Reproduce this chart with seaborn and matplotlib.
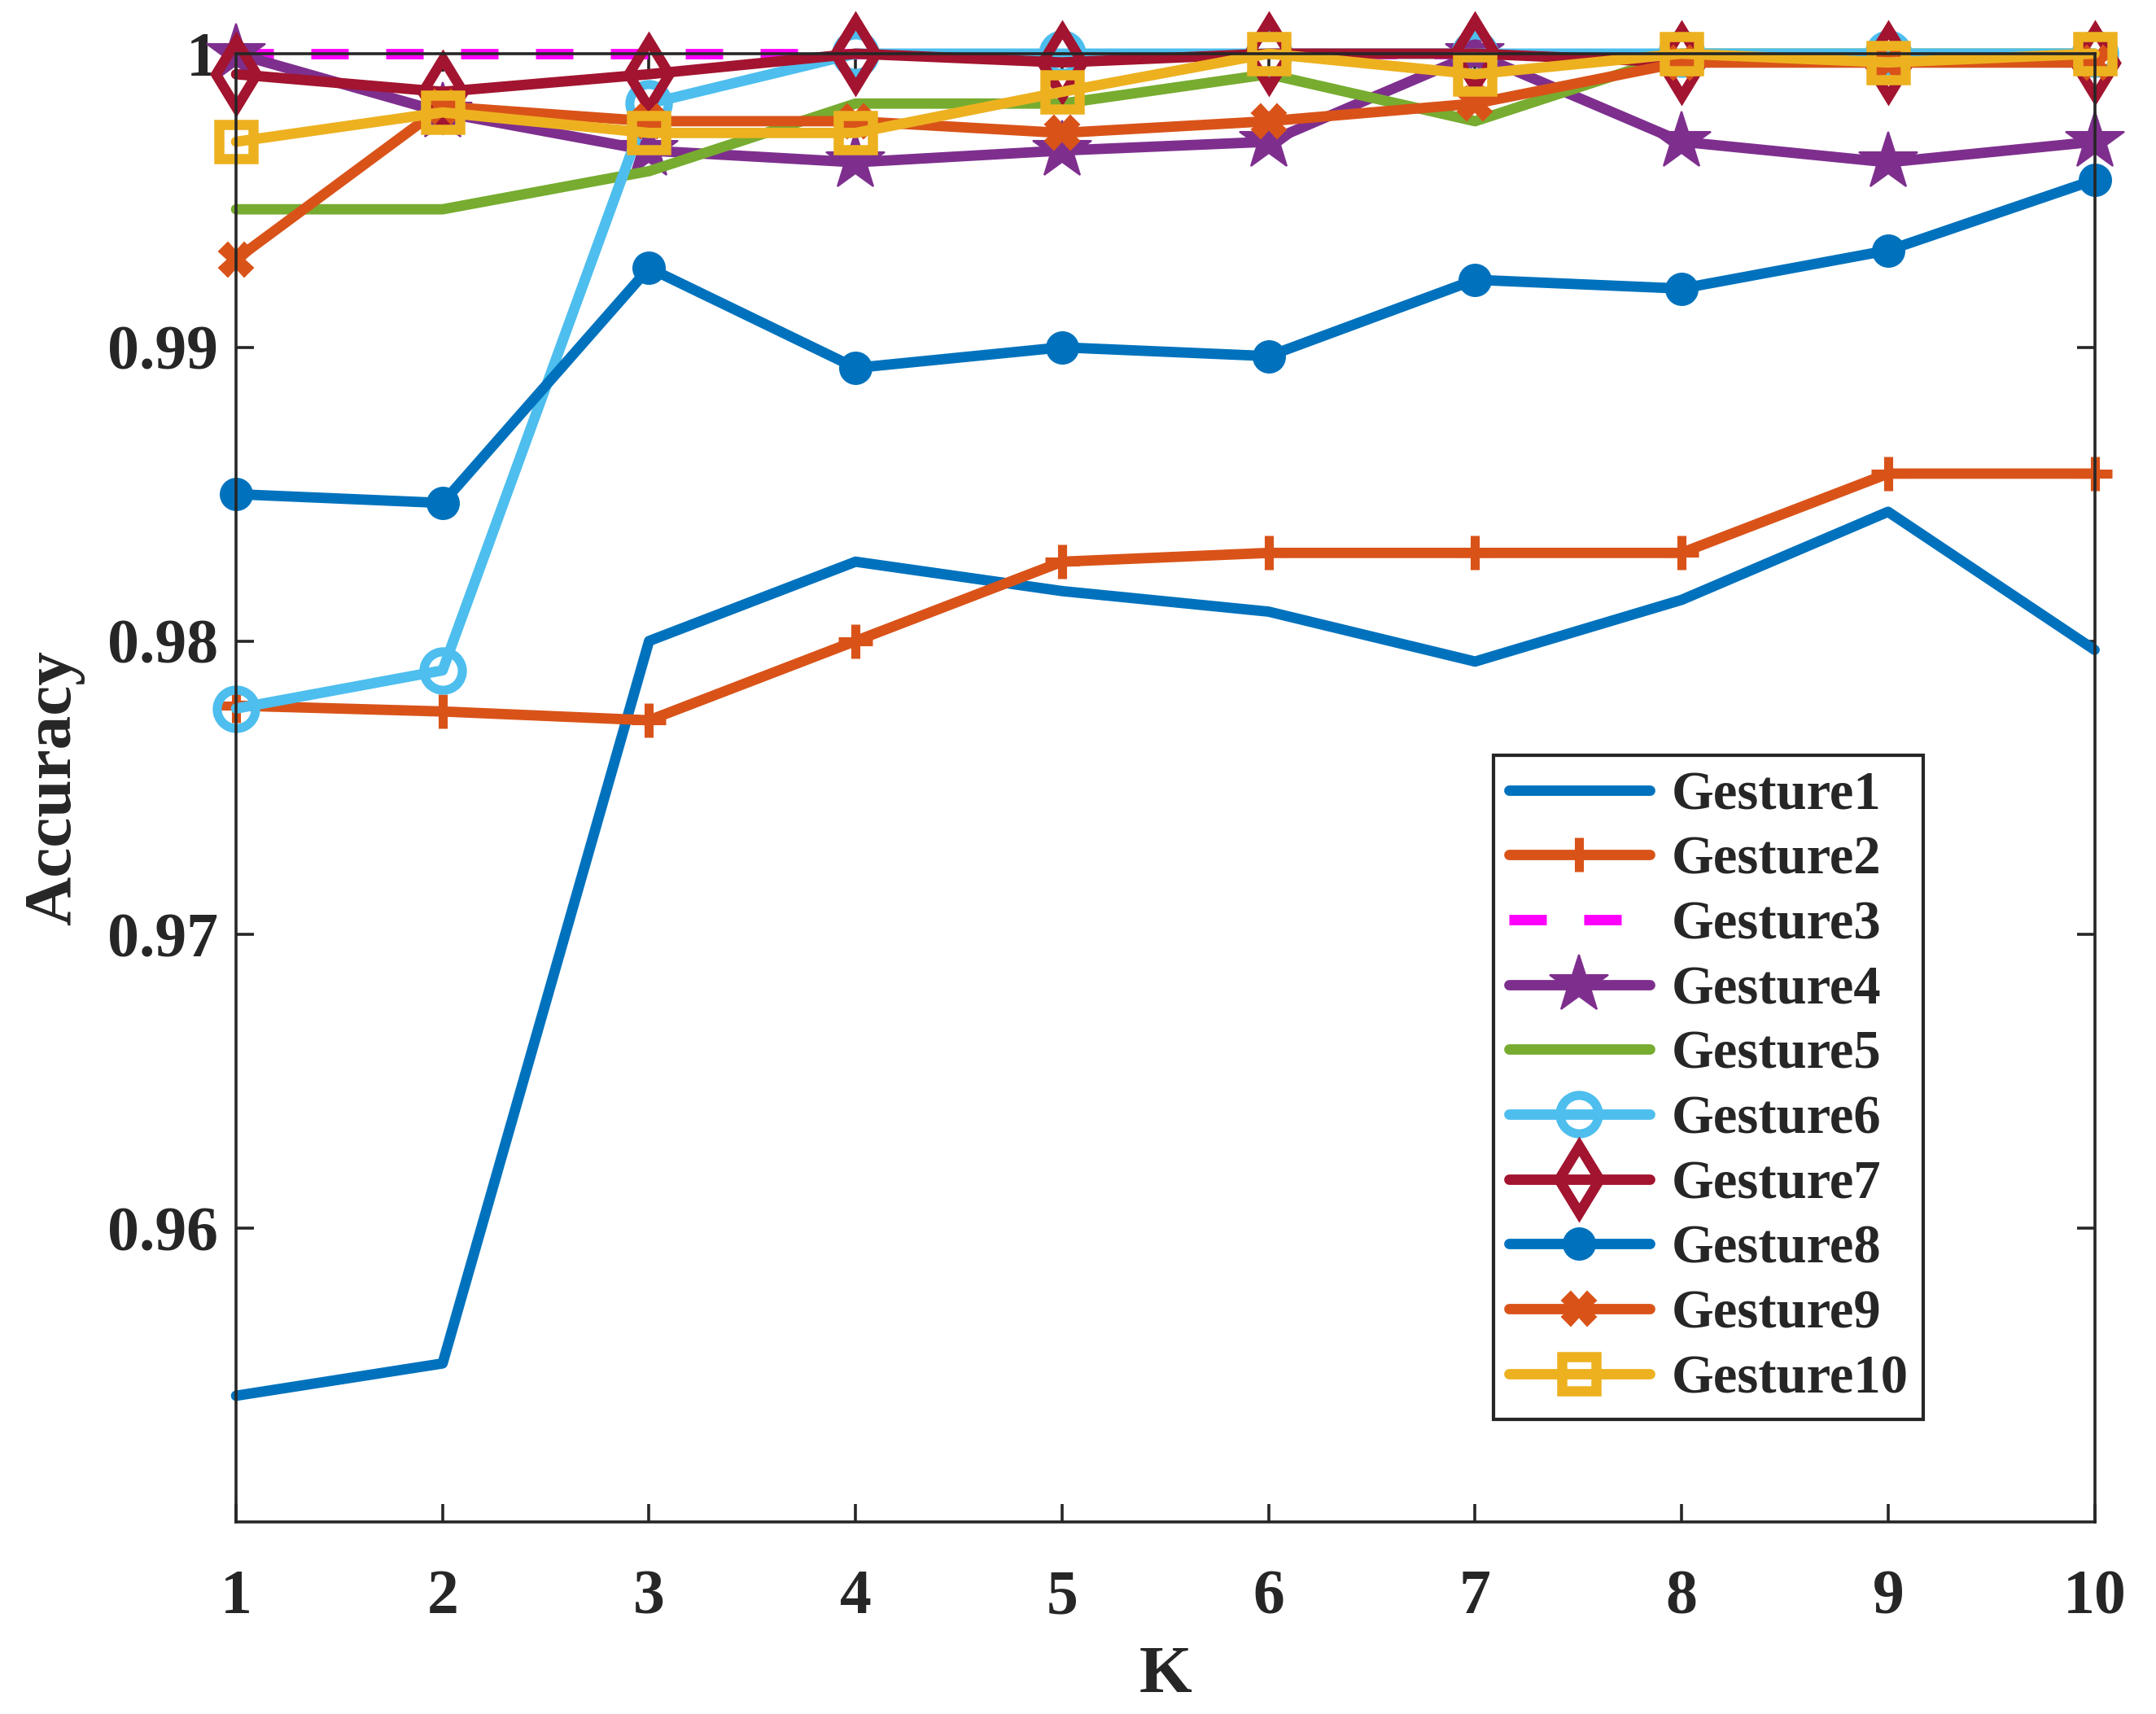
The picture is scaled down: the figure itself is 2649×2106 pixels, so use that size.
import seaborn as sns
import matplotlib.pyplot as plt
from matplotlib.ticker import FuncFormatter

# K 값과 각 제스처의 정확도
k_values = [1, 2, 3, 4, 5, 6, 7, 8, 9, 10]
gesture1 = [0.9543, 0.9554, 0.9800, 0.9827, 0.9817, 0.9810, 0.9793, 0.9814, 0.9844, 0.9797]
gesture2 = [0.9778, 0.9776, 0.9773, 0.9800, 0.9827, 0.9830, 0.9830, 0.9830, 0.9857, 0.9857]
gesture3 = [1.0000, 1.0000, 1.0000, 1.0000, 1.0000, 1.0000, 1.0000, 1.0000, 1.0000, 1.0000]
gesture4 = [1.0000, 0.9980, 0.9967, 0.9963, 0.9967, 0.9970, 1.0000, 0.9970, 0.9963, 0.9970]
gesture5 = [0.9947, 0.9947, 0.9960, 0.9983, 0.9983, 0.9993, 0.9977, 1.0000, 1.0000, 1.0000]
gesture6 = [0.9777, 0.9790, 0.9983, 1.0000, 1.0000, 1.0000, 1.0000, 1.0000, 1.0000, 1.0000]
gesture7 = [0.9993, 0.9987, 0.9993, 1.0000, 0.9997, 1.0000, 1.0000, 0.9997, 0.9997, 0.9997]
gesture8 = [0.9850, 0.9847, 0.9927, 0.9893, 0.9900, 0.9897, 0.9923, 0.9920, 0.9933, 0.9957]
gesture9 = [0.9930, 0.9982, 0.9977, 0.9977, 0.9973, 0.9977, 0.9983, 0.9997, 0.9997, 0.9997]
gesture10 = [0.9970, 0.9980, 0.9973, 0.9973, 0.9987, 1.0000, 0.9993, 1.0000, 0.9997, 1.0000]

labels = ['Gesture%d' % i for i in range(1, 11)]
series = [gesture1, gesture2, gesture3, gesture4, gesture5,
          gesture6, gesture7, gesture8, gesture9, gesture10]

# MATLAB 기본 색상 + 마커 스타일
styles = [
    dict(color='#0072BD', marker=None),
    dict(color='#D95319', marker='+', markersize=15, markeredgewidth=4),
    dict(color='#FF00FF', marker=None, linestyle=(0, (3.6, 3.6))),
    dict(color='#7E2F8E', marker='*', markersize=27),
    dict(color='#77AC30', marker=None),
    dict(color='#4DBEEE', marker='o', markersize=17, markerfacecolor='none', markeredgewidth=4),
    dict(color='#A2142F', marker='d', markersize=21, markerfacecolor='none', markeredgewidth=4.5),
    dict(color='#0072BD', marker='o', markersize=14),
    dict(color='#D95319', marker='X', markersize=15),
    dict(color='#EDB120', marker='s', markersize=15, markerfacecolor='none', markeredgewidth=4.5),
]

sns.set_style('ticks')
plt.rcParams['font.family'] = ['Liberation Serif', 'DejaVu Serif']
plt.rcParams['font.weight'] = 'bold'

fig = plt.figure(figsize=(13.245, 10.53), dpi=200)
ax = fig.add_axes([0.1095, 0.112, 0.862, 0.8567])

for lab, vals, st in zip(labels, series, styles):
    st = dict(st)
    if st.get('marker') is not None:
        st.setdefault('markeredgecolor', st['color'])
    sns.lineplot(x=k_values, y=vals, ax=ax, label=lab, linewidth=4.6,
                 clip_on=False, **st)

ax.set_xlim(1, 10)
ax.set_ylim(0.95, 1.0)
ax.set_xticks(k_values)
ax.set_yticks([0.96, 0.97, 0.98, 0.99, 1.0])
ax.yaxis.set_major_formatter(FuncFormatter(lambda v, p: '%g' % round(v, 4)))

ax.tick_params(direction='in', top=True, right=True, length=8, width=1.3,
               labelsize=28, colors='#262626')
ax.tick_params(axis='x', pad=21)
ax.tick_params(axis='y', pad=8)
for s in ax.spines.values():
    s.set_linewidth(1.3)
    s.set_color('#262626')

ax.set_xlabel('K', fontsize=30, fontweight='bold', labelpad=8)
ax.set_ylabel('Accuracy', fontsize=30, fontweight='bold', labelpad=10)

leg = ax.legend(loc='lower right', bbox_to_anchor=(0.908, 0.070), borderaxespad=0,
                fontsize=24, handlelength=2.6, handletextpad=0.4, labelspacing=0.28,
                borderpad=0.28, fancybox=False, framealpha=1, edgecolor='#262626')
leg.get_frame().set_linewidth(1.5)
for t in leg.get_texts():
    t.set_fontweight('bold')

fig.savefig('out.png', dpi=200)
